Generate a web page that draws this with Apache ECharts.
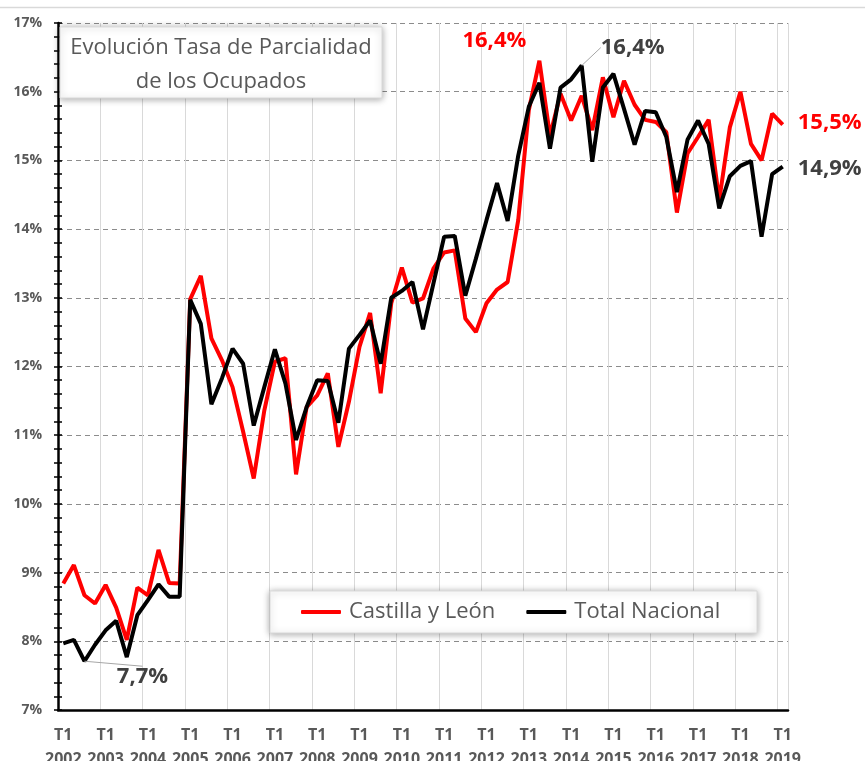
<!DOCTYPE html>
<html>
<head>
<meta charset="utf-8">
<script src="https://cdn.jsdelivr.net/npm/echarts@6/dist/echarts.min.js"></script>
<style>
  html, body { margin: 0; padding: 0; background: #fff; }
  #chart { width: 865px; height: 761px; }
</style>
</head>
<body>
<div id="chart"></div>
<script>
// trimestres T1 2002 .. T1 2019
let years = [2002, 2003, 2004, 2005, 2006, 2007, 2008, 2009, 2010, 2011, 2012, 2013, 2014, 2015, 2016, 2017, 2018, 2019];
let quarters = ['T1', 'T2', 'T3', 'T4'];
let categories = [];
years.forEach(function (y) {
    quarters.forEach(function (q) {
        if (y < 2019 || q == 'T1') categories.push(q + '\n' + y);
    });
});

let castilla = [
    8.84, 9.11, 8.67, 8.55, 8.82, 8.49, 8.02, 8.78, 8.67, 9.33, 8.85, 8.84,
    12.98, 13.32, 12.41, 12.09, 11.70, 11.05, 10.37, 11.36, 12.07, 12.12, 10.43, 11.41,
    11.58, 11.90, 10.83, 11.49, 12.29, 12.78, 11.61, 12.92, 13.44, 12.93, 12.99, 13.43,
    13.66, 13.69, 12.70, 12.50, 12.92, 13.12, 13.23, 14.13, 15.73, 16.45, 15.36, 15.97,
    15.58, 15.94, 15.44, 16.21, 15.63, 16.16, 15.81, 15.59, 15.56, 15.41, 14.24, 15.10,
    15.34, 15.59, 14.42, 15.48, 16.00, 15.24, 15.00, 15.68, 15.52
];
let nacional = [
    7.97, 8.02, 7.71, 7.95, 8.16, 8.30, 7.77, 8.38, 8.60, 8.83, 8.65, 8.65,
    12.97, 12.62, 11.45, 11.83, 12.26, 12.04, 11.14, 11.70, 12.25, 11.75, 10.93, 11.41,
    11.80, 11.79, 11.18, 12.26, 12.46, 12.67, 12.04, 13.00, 13.10, 13.23, 12.54, 13.22,
    13.89, 13.90, 13.03, 13.57, 14.13, 14.67, 14.12, 15.07, 15.78, 16.13, 15.17, 16.06,
    16.18, 16.38, 14.98, 16.06, 16.26, 15.75, 15.23, 15.72, 15.70, 15.34, 14.54, 15.30,
    15.58, 15.24, 14.30, 14.77, 14.92, 14.99, 13.89, 14.80, 14.91
];
// etiquetas de datos (indice -> texto)
let castillaLabels = {45: '16,4%', 68: '15,5%'};
let nacionalLabels = {2: '7,7%', 49: '16,4%', 68: '14,9%'};

let font = '"Open Sans", sans-serif';

// desplazamiento de cada etiqueta respecto a su punto
let moves = [
    {45: [-45, -20], 68: [47, -2]},
    {2: [58, 16], 49: [51, -18], 68: [47, 2]}
];

function buildData(values, labels, color, withLine) {
    return values.map(function (v, i) {
        if (labels[i] === undefined) return v;
        return {
            value: v,
            label: {
                show: true,
                position: 'inside',
                formatter: labels[i],
                color: color,
                fontFamily: font,
                fontWeight: 'bold',
                fontSize: 22
            },
            labelLine: {show: !!withLine[i]}
        };
    });
}

let chart = echarts.init(document.getElementById('chart'));

let option = {
    animation: false,
    textStyle: {fontFamily: font},
    grid: {left: 58, right: 77, top: 23, bottom: 51, containLabel: false, outerBoundsMode: 'none'},
    legend: {
        data: ['Castilla y León', 'Total Nacional'],
        left: 301,
        top: 601,
        padding: 0,
        icon: 'roundRect',
        itemWidth: 40,
        itemHeight: 4,
        itemGap: 31,
        z: 10,
        textStyle: {fontSize: 22, color: '#595959', fontFamily: font, padding: [0, 0, 0, 3]}
    },
    graphic: [
        {type: 'line', shape: {x1: 0, y1: 7.5, x2: 865, y2: 7.5}, style: {stroke: '#d9d9d9', lineWidth: 1.5}, z: 1},
        {
            type: 'rect', z: 5,
            shape: {x: 60, y: 27, width: 322, height: 71},
            style: {fill: '#fff', stroke: '#d9d9d9', lineWidth: 1, shadowBlur: 7, shadowColor: 'rgba(0,0,0,0.35)', shadowOffsetY: 1}
        },
        {
            type: 'text', z: 6,
            style: {
                text: 'Evolución Tasa de Parcialidad\nde los Ocupados',
                x: 221, y: 65, align: 'center', verticalAlign: 'middle',
                fontFamily: font, fontSize: 22, lineHeight: 34, fill: '#595959'
            }
        },
        {
            type: 'rect', z: 5,
            shape: {x: 270, y: 591, width: 487, height: 42},
            style: {fill: '#fff', stroke: '#d9d9d9', lineWidth: 1, shadowBlur: 7, shadowColor: 'rgba(0,0,0,0.35)', shadowOffsetY: 1}
        }
    ],
    xAxis: {
        type: 'category',
        data: categories,
        boundaryGap: true,
        axisLine: {lineStyle: {color: '#000', width: 2.5}},
        axisTick: {interval: 3, length: 5, lineStyle: {color: '#000', width: 1.5}},
        axisLabel: {interval: 3, color: '#595959', fontWeight: 'bold', fontSize: 16, lineHeight: 24, margin: 13, fontFamily: font},
        splitLine: {show: true, interval: 3, lineStyle: {color: '#d9d9d9', width: 1}}
    },
    yAxis: [
        {
            type: 'value', min: 7, max: 17, interval: 1,
            axisLine: {show: true, lineStyle: {color: '#000', width: 2.5}},
            axisTick: {show: true, length: 4, lineStyle: {color: '#000', width: 1.5}},
            minorTick: {show: true, splitNumber: 5, length: 4, lineStyle: {color: '#000', width: 1.5}},
            axisLabel: {formatter: '{value}%', color: '#595959', fontWeight: 'bold', fontSize: 14, margin: 16, fontFamily: font},
            splitLine: {show: true, lineStyle: {color: '#8c8c8c', type: [5, 4], width: 1.2}}
        },
        {
            type: 'value', min: 7, max: 17, interval: 1, position: 'left', offset: 0,
            axisLine: {show: false},
            axisTick: {show: true, inside: true, length: 4, lineStyle: {color: '#000', width: 1.5}},
            minorTick: {show: true, splitNumber: 5, length: 4, lineStyle: {color: '#000', width: 1.5}},
            axisLabel: {show: false},
            splitLine: {show: false}
        }
    ],
    series: [
        {
            name: 'Castilla y León',
            type: 'line',
            data: buildData(castilla, castillaLabels, '#ff0000', {}),
            color: '#ff0000',
            symbol: 'circle',
            symbolSize: 0,
            showAllSymbol: true,
            lineStyle: {width: 4, color: '#ff0000'},
            emphasis: {disabled: true},
            labelLayout: function (p) {
                let m = moves[0][p.dataIndex];
                return m ? {dx: m[0], dy: m[1]} : {};
            },
            z: 3
        },
        {
            name: 'Total Nacional',
            type: 'line',
            data: buildData(nacional, nacionalLabels, '#404040', {2: true, 49: true}),
            color: '#000',
            symbol: 'circle',
            symbolSize: 0,
            showAllSymbol: true,
            lineStyle: {width: 4, color: '#000'},
            emphasis: {disabled: true},
            labelLine: {show: false, lineStyle: {color: '#a6a6a6', width: 1}},
            labelLayout: function (p) {
                let m = moves[1][p.dataIndex];
                return m ? {dx: m[0], dy: m[1]} : {};
            },
            z: 4
        }
    ]
};

chart.setOption(option);
</script>
</body>
</html>
